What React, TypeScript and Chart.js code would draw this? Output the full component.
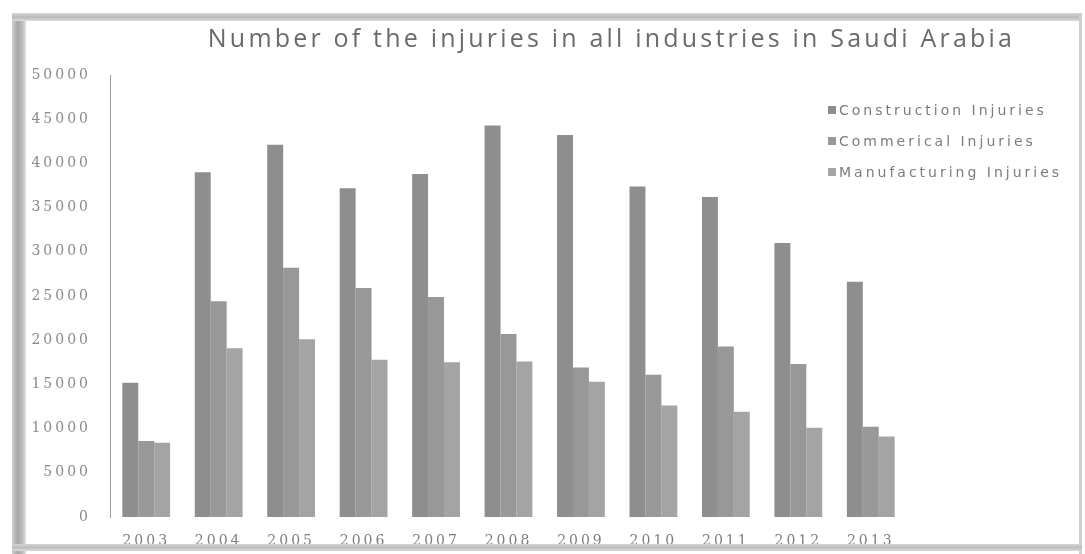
import React, { useEffect, useRef } from "react";
import { Chart, registerables } from "chart.js";

Chart.register(...registerables);

const TITLE = "Number of the injuries in all industries in Saudi Arabia";
const years = ["2003", "2004", "2005", "2006", "2007", "2008", "2009", "2010", "2011", "2012", "2013"];
const construction = [15200, 39000, 42100, 37200, 38800, 44300, 43200, 37400, 36200, 31000, 26600];
const commercial = [8600, 24400, 28200, 25900, 24900, 20700, 16900, 16100, 19300, 17300, 10200];
const manufacturing = [8400, 19100, 20100, 17800, 17500, 17600, 15300, 12600, 11900, 10100, 9100];
const seriesNames = ["Construction Injuries", "Commerical Injuries", "Manufacturing Injuries"];
const seriesColors = ["#8e8e8e", "#989898", "#a4a4a4"];
const yMin = 0;
const yMax = 50000;
const yStep = 5000;

const W = 1085;
const H = 554;

const spacingPlugin = {
  id: "tickSpacing",
  beforeDraw(chart: any) {
    try {
      chart.ctx.letterSpacing = "3px";
    } catch (e) {}
  },
  afterDraw(chart: any) {
    try {
      chart.ctx.letterSpacing = "0px";
    } catch (e) {}
  },
};

export default function App() {
  const ref = useRef<HTMLCanvasElement | null>(null);

  useEffect(() => {
    if (!ref.current) return;
    const series = [construction, commercial, manufacturing];
    const chart = new Chart(ref.current, {
      type: "bar",
      data: {
        labels: years,
        datasets: series.map((d, i) => ({
          label: seriesNames[i],
          data: d,
          backgroundColor: seriesColors[i],
          borderWidth: 0,
          barPercentage: 1,
          categoryPercentage: 0.66,
        })),
      },
      options: {
        responsive: false,
        animation: false,
        devicePixelRatio: 1,
        layout: { padding: { left: 0, right: 178, top: 75, bottom: 0 } },
        plugins: {
          legend: { display: false },
          title: { display: false },
          tooltip: { enabled: false },
        },
        scales: {
          x: {
            grid: { display: false, drawTicks: false },
            border: { display: false },
            ticks: {
              color: "#7e7e7e",
              padding: 16,
              font: { family: "'DejaVu Serif'", size: 14 },
              maxRotation: 0,
            },
            afterFit(s: any) {
              s.height = 37;
            },
          },
          y: {
            min: yMin,
            max: yMax,
            grid: { display: false, drawTicks: false },
            border: { display: true, color: "#9c9c9c", width: 1 },
            ticks: {
              stepSize: yStep,
              color: "#8a8a8a",
              padding: 19,
              font: { family: "'DejaVu Serif'", size: 14 },
              callback: (v: any) => String(v),
            },
            afterFit(s: any) {
              s.width = 110;
            },
          },
        },
      },
      plugins: [spacingPlugin],
    });
    return () => chart.destroy();
  }, []);

  const legendTops = [110, 141, 172];

  return (
    <div
      style={{
        position: "absolute",
        left: 0,
        top: 0,
        width: W,
        height: H,
        background: "#ffffff",
        overflow: "hidden",
      }}
    >
      <canvas ref={ref} width={W} height={H} style={{ display: "block", width: W, height: H }} />
      {/* scan frame */}
      <div style={{ position: "absolute", left: 12, top: 13, width: 14, height: H - 13, background: "linear-gradient(90deg,#d0d0d0,#a8a8a8 40%,#b8b8b8 70%,#e0e0e0)" }} />
      <div style={{ position: "absolute", left: 12, top: 13, width: 1070, height: 8, background: "linear-gradient(180deg,#d8d8d8,#b8b8b8 50%,#dcdcdc)" }} />
      <div style={{ position: "absolute", left: 1079, top: 13, width: 3, height: H - 13, background: "#cfcfcf" }} />
      <div style={{ position: "absolute", left: 12, top: 544, width: 1070, height: 7, background: "linear-gradient(180deg,#d4d4d4,#bdbdbd 50%,#dadada)" }} />
      {/* title */}
      <div
        style={{
          position: "absolute",
          left: 168,
          top: 21,
          width: 887,
          textAlign: "center",
          whiteSpace: "nowrap",
          fontFamily: "'Open Sans', sans-serif",
          fontSize: 25,
          letterSpacing: "3.2px",
          color: "#6a6a6a",
          lineHeight: "32px",
        }}
      >
        {TITLE}
      </div>
      {/* legend */}
      {seriesNames.map((name, i) => (
        <div
          key={name}
          style={{
            position: "absolute",
            left: 828,
            top: legendTops[i] - 10,
            height: 20,
            display: "flex",
            alignItems: "center",
            whiteSpace: "nowrap",
          }}
        >
          <span style={{ display: "inline-block", width: 8, height: 8, background: seriesColors[i], marginRight: 3 }} />
          <span
            style={{
              fontFamily: "'DejaVu Sans', sans-serif",
              fontSize: 14,
              letterSpacing: "3px",
              color: "#7c7c7c",
            }}
          >
            {name}
          </span>
        </div>
      ))}
    </div>
  );
}
